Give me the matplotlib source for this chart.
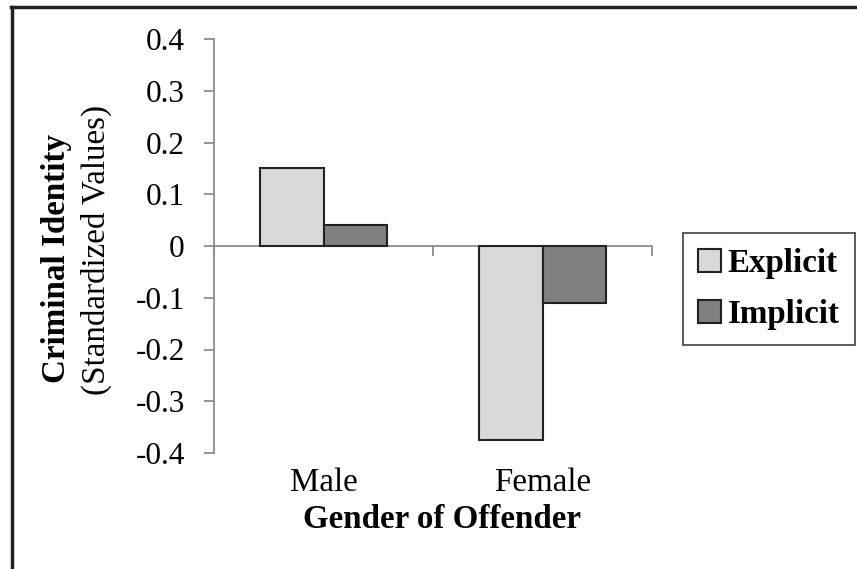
import matplotlib
matplotlib.use("Agg")
import matplotlib.pyplot as plt
from matplotlib.lines import Line2D
from matplotlib.patches import Patch
import matplotlib.transforms as mtransforms

categories = ["Male", "Female"]
explicit = [0.15, -0.375]
implicit = [0.04, -0.11]
series_names = ["Explicit", "Implicit"]
yticks = [-0.4, -0.3, -0.2, -0.1, 0.0, 0.1, 0.2, 0.3, 0.4]
ytick_labels = ["-0.4", "-0.3", "-0.2", "-0.1", "0", "0.1", "0.2", "0.3", "0.4"]

plt.rcParams['font.family'] = ['Liberation Serif', 'DejaVu Serif']
FS_TICK = 22.5
FS = 23.8

fig = plt.figure(figsize=(8.57, 5.69), dpi=100)
ax = fig.add_axes([214/857, 1-453/569, (652-214)/857, (453-39)/569])

x = list(range(len(categories)))
w = 0.29
ax.bar([i - w/2 for i in x], explicit, width=w, color="#d9d9d9", edgecolor="#222222", linewidth=1.5, zorder=3)
ax.bar([i + w/2 for i in x], implicit, width=w, color="#808080", edgecolor="#222222", linewidth=1.5, zorder=3)

ax.set_xlim(-0.5, len(categories) - 0.5)
ax.set_ylim(-0.4, 0.4)
ax.set_yticks(yticks)
ax.set_yticklabels(ytick_labels, fontsize=FS_TICK)

for s in ["top", "right"]:
    ax.spines[s].set_visible(False)
ax.spines["left"].set_color("#8c8c8c")
ax.spines["left"].set_linewidth(1.3)
ax.spines["bottom"].set_position(("data", 0))
ax.spines["bottom"].set_color("#8c8c8c")
ax.spines["bottom"].set_linewidth(1.3)
ax.tick_params(axis="y", direction="out", length=7, width=1.3, color="#8c8c8c", pad=14)

ax.set_xticks([i + 0.5 for i in range(-1, len(categories))], minor=True)
ax.set_xticks(x)
ax.set_xticklabels([])
ax.tick_params(axis="x", which="major", length=0)
ax.tick_params(axis="x", which="minor", direction="out", length=7, width=1.3, color="#8c8c8c")

trans = mtransforms.blended_transform_factory(ax.transData, ax.transAxes)
for i, c in enumerate(categories):
    ax.text(i, -0.072, c, transform=trans, ha="center", va="center", fontsize=FS)

fig.text(442/857, 1-520/569, "Gender of Offender", ha="center", va="center", fontsize=FS, fontweight="bold")
fig.text(56/857, 1-258/569, "Criminal Identity", ha="center", va="center", rotation=90, fontsize=FS, fontweight="bold")
fig.text(96/857, 1-250/569, "(Standardized Values)", ha="center", va="center", rotation=90, fontsize=FS)

handles = [Patch(facecolor="#d9d9d9", edgecolor="#222222", linewidth=1.5),
           Patch(facecolor="#808080", edgecolor="#222222", linewidth=1.5)]
leg = fig.legend(handles, series_names, loc="upper left", bbox_to_anchor=(683/857, 1-233/569),
                 frameon=True, fancybox=False, prop={"size": FS, "weight": "bold"},
                 handlelength=0.7, handleheight=0.7, handletextpad=0.2, borderpad=0.45,
                 labelspacing=0.6, borderaxespad=0)
leg.get_frame().set_edgecolor("#222222")
leg.get_frame().set_linewidth(1.3)

fig.add_artist(Line2D([11/857, 1], [1-7/569, 1-7/569], transform=fig.transFigure, color="#222222", linewidth=2.5))
fig.add_artist(Line2D([12/857, 12/857], [0, 1-7/569], transform=fig.transFigure, color="#222222", linewidth=2.5))

fig.savefig("out.png", dpi=100)
